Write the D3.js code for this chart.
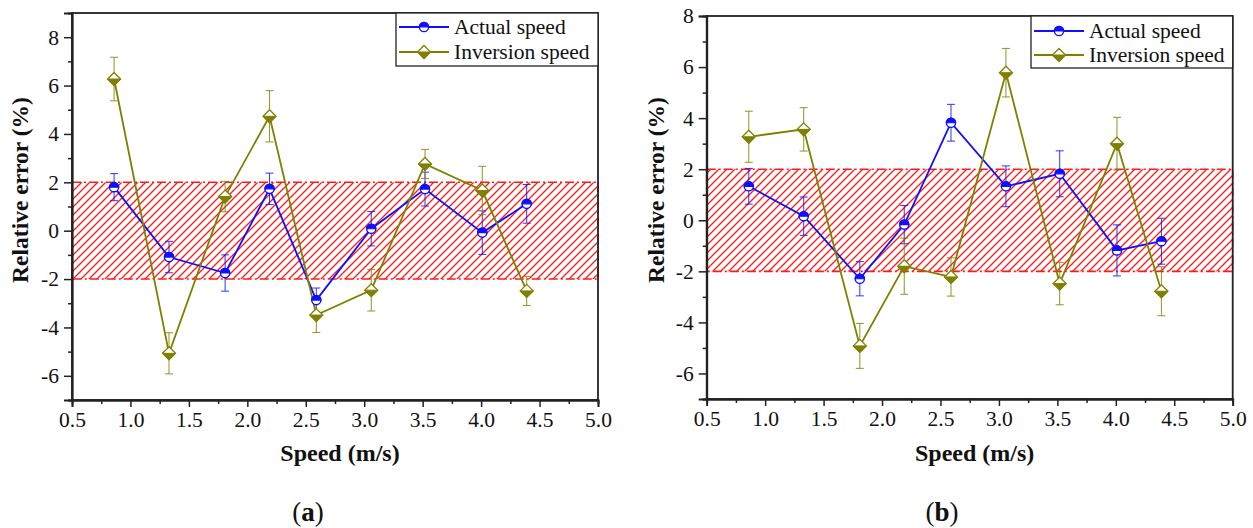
<!DOCTYPE html>
<html>
<head>
<meta charset="utf-8">
<script src="https://cdn.jsdelivr.net/npm/d3@7"></script>
<style>
  html, body { margin: 0; padding: 0; background: #ffffff; }
  svg { display: block; }
  text { font-family: "Liberation Serif", "Times New Roman", serif; fill: #111; }
</style>
</head>
<body>
<svg id="chart" width="1253" height="528"></svg>
<script>
// Measured speeds (m/s), shared by both panels
const speeds = [0.86, 1.33, 1.81, 2.19, 2.59, 3.06, 3.52, 4.01, 4.39];

// Panel (a): relative error (%) and error-bar half widths
const actualA       = [1.80, -1.09, -1.75, 1.73, -2.87, 0.08, 1.72, -0.08, 1.11];
const actualErrA    = [0.56, 0.65, 0.75, 0.65, 0.50, 0.71, 0.70, 0.90, 0.80];
const inversionA    = [6.27, -5.07, 1.41, 4.73, -3.49, -2.46, 2.76, 1.66, -2.49];
const inversionErrA = [0.90, 0.85, 0.63, 1.06, 0.72, 0.86, 0.60, 1.00, 0.60];

// Panel (b)
const actualB       = [1.33, 0.16, -2.29, -0.17, 3.82, 1.33, 1.82, -1.18, -0.82];
const actualErrB    = [0.70, 0.75, 0.67, 0.75, 0.72, 0.80, 0.90, 1.00, 0.90];
const inversionB    = [3.27, 3.56, -4.92, -1.80, -2.22, 5.78, -2.48, 3.00, -2.78];
const inversionErrB = [1.00, 0.85, 0.88, 1.10, 0.75, 0.95, 0.83, 1.03, 0.96];

// Tolerance band (%)
const band = [-2, 2];

// Axis ticks
const xTicks = [0.5, 1.0, 1.5, 2.0, 2.5, 3.0, 3.5, 4.0, 4.5, 5.0];
const xMinorTicks = [0.75, 1.25, 1.75, 2.25, 2.75, 3.25, 3.75, 4.25, 4.75];
const yTicks = [-6, -4, -2, 0, 2, 4, 6, 8];
const yMinorTicks = [-7, -5, -3, -1, 1, 3, 5, 7];

const seriesNames = ["Actual speed", "Inversion speed"];
const BLUE = "#1010ff";
const OLIVE = "#808000";
const RED = "#ff1a1a";

const svg = d3.select("#chart");
svg.append("rect").attr("width", 1253).attr("height", 528).attr("fill", "#ffffff");

// Diagonal hatch for the tolerance band
const defs = svg.append("defs");
const pat = defs.append("pattern")
  .attr("id", "hatch")
  .attr("patternUnits", "userSpaceOnUse")
  .attr("width", 8).attr("height", 8);
pat.append("path")
  .attr("d", "M-2,2 L2,-2 M0,8 L8,0 M6,10 L10,6")
  .attr("stroke", RED).attr("stroke-width", 1.35).attr("fill", "none");

// Half-filled markers
function circleMarker(g, cx, cy, color) {
  const r = 4.6;
  const m = g.append("g").attr("transform", `translate(${cx},${cy})`);
  m.append("circle").attr("r", r).attr("fill", "#fff").attr("stroke", color).attr("stroke-width", 1.4);
  m.append("path").attr("d", `M${-r},0 A${r},${r} 0 0 1 ${r},0 Z`).attr("fill", color).attr("stroke", color).attr("stroke-width", 1.2);
}
function diamondMarker(g, cx, cy, color) {
  const s = 6.5;
  const m = g.append("g").attr("transform", `translate(${cx},${cy})`);
  m.append("path").attr("d", `M0,${-s} L${s},0 L0,${s} L${-s},0 Z`).attr("fill", "#fff").attr("stroke", color).attr("stroke-width", 1.3);
  m.append("path").attr("d", `M${-s},0 L${s},0 L0,${s} Z`).attr("fill", color).attr("stroke", color).attr("stroke-width", 1);
}

function drawPanel(p) {
  const x = d3.scaleLinear().domain([0.5, 5.0]).range([p.left, p.right]);
  const y = d3.scaleLinear().domain(p.yDomain).range([p.bottom, p.top]);
  const g = svg.append("g");

  // Tolerance band with dash-dot outline
  g.append("rect")
    .attr("x", x(0.5)).attr("y", y(band[1]))
    .attr("width", x(5.0) - x(0.5)).attr("height", y(band[0]) - y(band[1]))
    .attr("fill", "url(#hatch)")
    .attr("stroke", RED).attr("stroke-width", 1.6)
    .attr("stroke-dasharray", "9,3,2,3");

  const series = [
    { vals: p.actual, errs: p.actualErr, color: BLUE, marker: circleMarker },
    { vals: p.inversion, errs: p.inversionErr, color: OLIVE, marker: diamondMarker }
  ];

  // Error bars
  series.forEach(s => {
    const eb = g.append("g").attr("stroke", s.color).attr("stroke-width", 1).attr("fill", "none").attr("opacity", 0.85);
    s.vals.forEach((v, i) => {
      const cx = x(speeds[i]);
      const yt = y(v + s.errs[i]), yb = y(v - s.errs[i]);
      eb.append("line").attr("x1", cx).attr("x2", cx).attr("y1", yt).attr("y2", yb);
      eb.append("line").attr("x1", cx - 4).attr("x2", cx + 4).attr("y1", yt).attr("y2", yt);
      eb.append("line").attr("x1", cx - 4).attr("x2", cx + 4).attr("y1", yb).attr("y2", yb);
    });
  });

  // Connecting lines
  const line = d3.line().x((d, i) => x(speeds[i])).y(d => y(d));
  series.forEach(s => {
    g.append("path").datum(s.vals).attr("d", line)
      .attr("fill", "none").attr("stroke", s.color).attr("stroke-width", 1.8);
  });

  // Markers
  series.forEach(s => {
    s.vals.forEach((v, i) => s.marker(g, x(speeds[i]), y(v), s.color));
  });

  // Frame
  g.append("rect")
    .attr("x", p.left).attr("y", p.top)
    .attr("width", p.right - p.left).attr("height", p.bottom - p.top)
    .attr("fill", "none").attr("stroke", "#222").attr("stroke-width", 1.8);

  // Bottom axis
  g.append("g").attr("transform", `translate(0,${p.bottom})`)
    .call(d3.axisBottom(x).tickValues(xTicks).tickFormat(d3.format(".1f")).tickSize(7).tickPadding(5));
  g.append("g").attr("transform", `translate(0,${p.bottom})`)
    .call(d3.axisBottom(x).tickValues(xMinorTicks).tickFormat("").tickSize(4));

  // Left axis
  const ya = g.append("g").attr("transform", `translate(${p.left},0)`)
    .call(d3.axisLeft(y).tickValues(yTicks).tickFormat(d3.format("d")).tickSize(8).tickPadding(5));
  g.append("g").attr("transform", `translate(${p.left},0)`)
    .call(d3.axisLeft(y).tickValues(yMinorTicks).tickFormat("").tickSize(4));

  g.selectAll(".domain").attr("stroke", "#222").attr("stroke-width", 1.8);
  g.selectAll(".tick line").attr("stroke", "#222").attr("stroke-width", 1.5);
  g.selectAll(".tick text")
    .attr("font-family", "'Liberation Serif', serif")
    .attr("font-size", 21.5).attr("fill", "#111");
  ya.selectAll(".tick text").text(d => d < 0 ? "-" + Math.abs(d) : d);

  // Axis titles
  g.append("text")
    .attr("x", (p.left + p.right) / 2 + 5).attr("y", 461)
    .attr("text-anchor", "middle")
    .attr("font-size", 24).attr("font-weight", "bold")
    .text("Speed (m/s)");
  g.append("text")
    .attr("transform", `translate(${p.yTitleX},${p.yTitleY}) rotate(-90)`)
    .attr("text-anchor", "middle")
    .attr("font-size", 23.5).attr("font-weight", "bold")
    .text("Relative error (%)");

  // Panel tag
  const tag = g.append("text")
    .attr("x", p.tagX).attr("y", 521)
    .attr("text-anchor", "middle").attr("font-size", 27);
  tag.append("tspan").text("(");
  tag.append("tspan").attr("font-weight", "bold").text(p.tag);
  tag.append("tspan").text(")");

  // Legend
  const lg = g.append("g");
  lg.append("rect")
    .attr("x", p.legX).attr("y", p.top)
    .attr("width", p.right - p.legX).attr("height", p.legH)
    .attr("fill", "#fff").attr("stroke", "#222").attr("stroke-width", 1.3);
  series.forEach((s, k) => {
    const ry = p.top + p.legRow[k];
    const lx0 = p.legX + 3, lx1 = p.legX + 53;
    lg.append("line").attr("x1", lx0).attr("x2", lx1).attr("y1", ry).attr("y2", ry)
      .attr("stroke", s.color).attr("stroke-width", 1.8);
    s.marker(lg, (lx0 + lx1) / 2, ry, s.color);
    lg.append("text")
      .attr("x", p.legX + 58).attr("y", ry + 7)
      .attr("font-size", 21.5)
      .text(seriesNames[k]);
  });
}

drawPanel({
  left: 72, right: 598, top: 13, bottom: 400, yDomain: [-7, 9],
  actual: actualA, actualErr: actualErrA, inversion: inversionA, inversionErr: inversionErrA,
  yTitleX: 28, yTitleY: 190, tag: "a", tagX: 308,
  legX: 396, legH: 53, legRow: [14, 39]
});

drawPanel({
  left: 706.7, right: 1232.7, top: 16, bottom: 399, yDomain: [-7, 8],
  actual: actualB, actualErr: actualErrB, inversion: inversionB, inversionErr: inversionErrB,
  yTitleX: 664, yTitleY: 190, tag: "b", tagX: 942,
  legX: 1031, legH: 52, legRow: [15, 39]
});
</script>
</body>
</html>
